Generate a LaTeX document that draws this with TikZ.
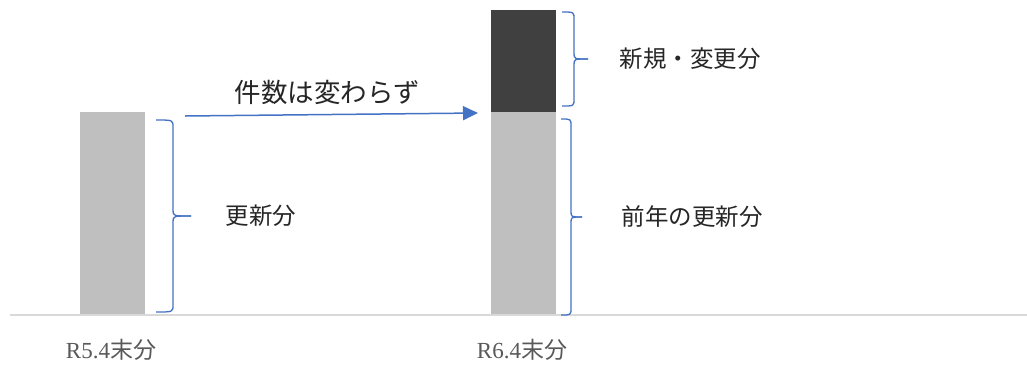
\documentclass[tikz,border=0pt]{standalone}
\usepackage{fontspec}
\setmainfont{Liberation Serif}
\newfontfamily\jp{Noto Sans CJK JP}
\usetikzlibrary{arrows.meta}
\definecolor{bluebr}{HTML}{4472C4}
\definecolor{lightbar}{HTML}{BFBFBF}
\definecolor{darkbar}{HTML}{404040}
\definecolor{axisgray}{HTML}{D9D9D9}
\definecolor{labgray}{HTML}{595959}
\tikzset{
  bar/.style={draw=none, inner sep=0pt, anchor=south west, minimum width=65pt},
  brace/.style={draw=bluebr, line width=1.3pt},
  arr/.style={draw=bluebr, line width=1.5pt, -{Triangle[length=15pt,width=14pt]}},
  lbl/.style={inner sep=0pt, font=\jp\fontsize{23.5}{27}\selectfont, text=black!85},
  biglbl/.style={inner sep=0pt, font=\jp\fontsize{26.5}{30}\selectfont, text=black!85},
  axlbl/.style={inner sep=0pt, text=labgray, font=\fontsize{23}{27}\selectfont},
}
\newcommand\ybrace[6]{% leftx, vx, tipx, top, mid, bottom
  \draw[brace] (#1,#4) .. controls (#2,#4) .. (#2,#4+7) -- (#2,#5-6) .. controls (#2,#5) .. (#3,#5);
  \draw[brace] (#1,#6) .. controls (#2,#6) .. (#2,#6-7) -- (#2,#5+6) .. controls (#2,#5) .. (#3,#5);
}
\begin{document}
\begin{tikzpicture}[x=1pt,y=-1pt]
\useasboundingbox (0,0) rectangle (1027,365);
\fill[white] (0,0) rectangle (1027,365);
\node[bar, fill=lightbar, minimum height=203pt] (b1) at (80,315) {};
\node[bar, fill=lightbar, minimum height=203pt] (b2) at (491,315) {};
\node[bar, fill=darkbar, minimum height=102pt] (b3) at (491,112) {};
\draw[axisgray, line width=1.5pt] (10,315) -- (1027,315);
\ybrace{156}{173}{191}{120}{216}{312}
\ybrace{562}{574}{588}{12}{59}{106}
\ybrace{561}{571}{582}{119}{217}{315}
\coordinate (as) at (185,116);
\coordinate (ae) at (478,113);
\draw[arr] (as) -- (ae);
\node[biglbl] (t0) at (327,92) {件数は変わらず};
\node[lbl] (t1) at (261,216) {更新分};
\node[lbl] (t2) at (690,59) {新規・変更分};
\node[lbl] (t3) at (692,217) {前年の更新分};
\node[axlbl] (x1) at (111,350) {R5.4{\jp 末分}};
\node[axlbl] (x2) at (522,350) {R6.4{\jp 末分}};
\end{tikzpicture}
\end{document}
